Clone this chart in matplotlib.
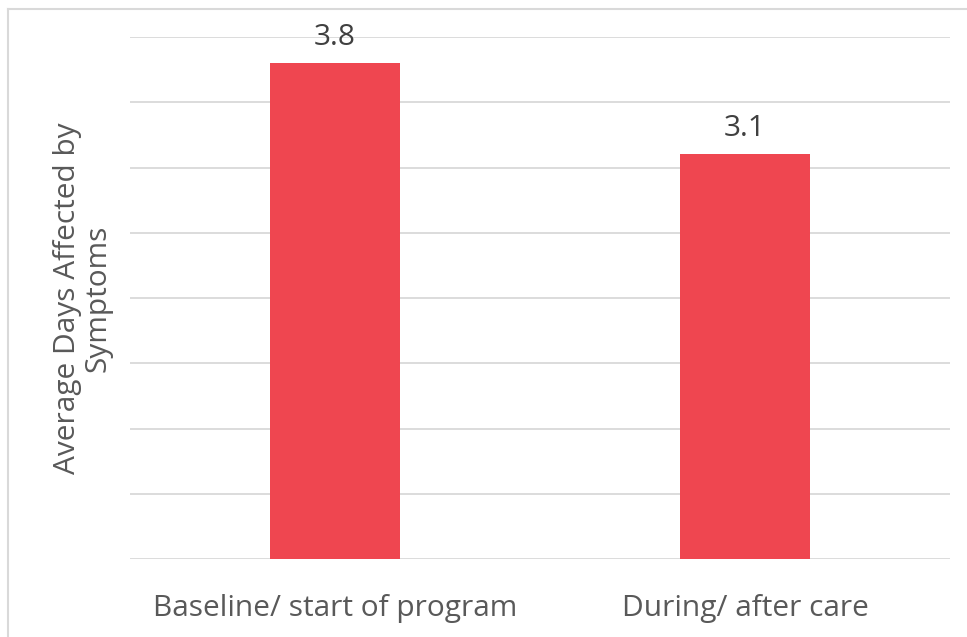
import matplotlib
matplotlib.use("Agg")
import matplotlib.pyplot as plt
from matplotlib.lines import Line2D

categories = ["Baseline/ start of program", "During/ after care"]
values = [3.8, 3.1]
value_labels = ["3.8", "3.1"]

plt.rcParams['font.family'] = ['Open Sans', 'DejaVu Sans']

fig = plt.figure(figsize=(9.67, 6.37), dpi=100)
ax = fig.add_axes([130/967, 78/637, 820/967, 522/637])

x = range(len(categories))
bars = ax.bar(x, values, width=0.315, color='#EF4650', zorder=3)
ax.set_xlim(-0.5, 1.5)
ax.set_ylim(0, 4)
ax.set_yticks([i * 0.5 for i in range(9)])
ax.set_yticklabels([])
ax.tick_params(axis='y', length=0)
ax.tick_params(axis='x', length=0, pad=25, labelsize=21.5, labelcolor='#595959')
ax.set_xticks(list(x))
ax.set_xticklabels(categories)
ax.grid(axis='y', color='#D9D9D9', linewidth=1.3, zorder=0)
for s in ax.spines.values():
    s.set_visible(False)

for b, lab in zip(bars, value_labels):
    ax.annotate(lab, (b.get_x() + b.get_width() / 2, b.get_height()),
                xytext=(0, 8), textcoords='offset points', ha='center', va='bottom',
                fontsize=21.5, color='#404040')

fig.text(83/967, 1 - 298/637, "Average Days Affected by\nSymptoms", rotation=90,
         ha='center', va='center', fontsize=21.5, color='#595959', linespacing=1.05)

fig.add_artist(Line2D([8/967, 8/967], [0, 1 - 9/637], color='#D9D9D9', linewidth=1.5))
fig.add_artist(Line2D([8/967, 1], [1 - 9/637, 1 - 9/637], color='#D9D9D9', linewidth=1.5))

fig.savefig("out.png", dpi=100, facecolor='white')
